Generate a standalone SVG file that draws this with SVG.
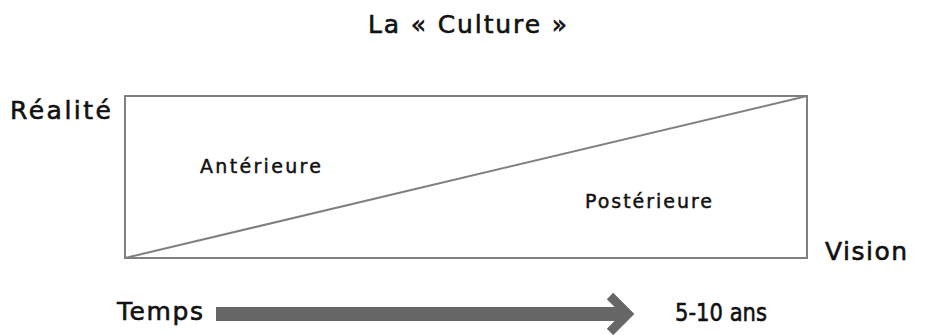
<svg xmlns="http://www.w3.org/2000/svg" width="925" height="335" viewBox="0 0 925 335">
  <style>
    text { font-family: "DejaVu Sans", "Noto Sans", sans-serif; fill: #111; stroke: #111; stroke-width: 0.6; }
    .big { font-size: 25px; }
    .small { font-size: 19px; stroke-width: 0.45; }
    .frame { fill: none; stroke: #808080; stroke-width: 2; }
    .arrow { fill: #666; }
  </style>
  <rect width="925" height="335" fill="#fff"/>
  <g id="title"><text class="big" x="368" y="33" textLength="199" lengthAdjust="spacing">La « Culture »</text></g>
  <g id="box">
    <rect class="frame" x="125" y="96" width="682" height="162"/>
    <line class="frame" x1="125" y1="258" x2="807" y2="96"/>
  </g>
  <g id="realite"><text class="big" x="10" y="119" textLength="101" lengthAdjust="spacing">Réalité</text></g>
  <g id="anterieure"><text class="small" x="200" y="173" textLength="121" lengthAdjust="spacing">Antérieure</text></g>
  <g id="posterieure"><text class="small" x="585" y="208" textLength="127" lengthAdjust="spacing">Postérieure</text></g>
  <g id="vision"><text class="big" x="825" y="260" textLength="82" lengthAdjust="spacing">Vision</text></g>
  <g id="temps"><text class="big" x="117" y="320" textLength="86" lengthAdjust="spacing">Temps</text></g>
  <g id="duree"><text class="big" x="675" y="321" font-size="24" textLength="92" lengthAdjust="spacingAndGlyphs">5-10 ans</text></g>
  <g id="connectors">
    <rect class="arrow" x="216" y="307" width="410" height="14"/>
    <polyline points="610,296 628,314 610,332" fill="none" stroke="#666" stroke-width="9" stroke-linejoin="miter"/>
  </g>
</svg>
